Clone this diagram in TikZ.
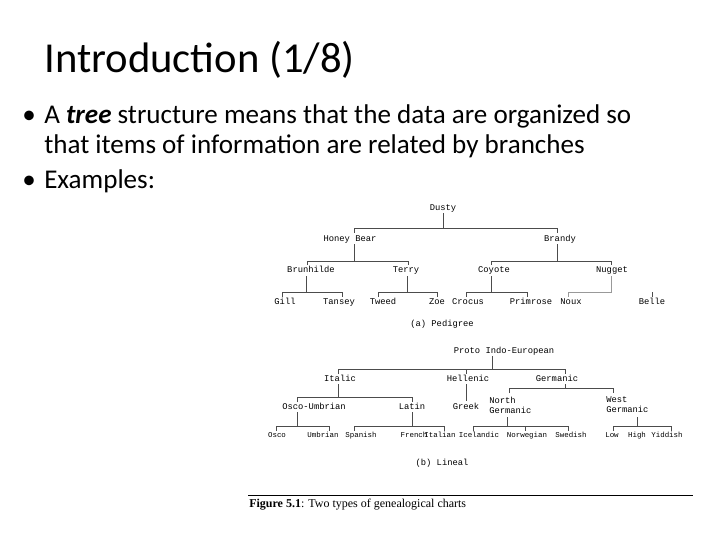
\documentclass[tikz,border=0pt]{standalone}
\usepackage{fontspec}
\setmainfont{Carlito}
\newfontfamily\treefont{Liberation Mono}
\newfontfamily\capfont{Liberation Serif}
\begin{document}
\begin{tikzpicture}[x=0.75pt,y=-0.75pt,
  t/.style={font=\treefont\fontsize{6.6}{7.5}\selectfont,inner sep=0pt,text height=4.6pt,text depth=1.3pt},
  ts/.style={font=\treefont\fontsize{5.6}{7}\selectfont,inner sep=0pt,text height=4.6pt,text depth=1.3pt},
  tl/.style={font=\treefont\fontsize{6.6}{7.5}\selectfont,inner sep=0pt,anchor=west},
  ln/.style={line width=0.6pt,black!70},
  body/.style={font=\fontsize{20.3}{24}\selectfont,anchor=west,inner sep=0pt,text height=14pt,text depth=4pt}]
\useasboundingbox (0,0) rectangle (720,540);
\node[font=\fontsize{32}{36}\selectfont,anchor=west,inner sep=0pt] (title) at (44,60) {Introduction (1/8)};
\node[body] (b1) at (22,117) {•};
\node[body] (l1) at (44,117) {A \textit{\textbf{tree}} structure means that the data are organized so};
\node[body] (l2) at (44,147) {that items of information are related by branches};
\node[body] (b2) at (22,182) {•};
\node[body] (l3) at (44,182) {Examples:};
% pedigree
\node[t] (dusty) at (443,208) {Dusty};
\node[t] (hb) at (350,239) {Honey Bear};
\node[t] (brandy) at (560,239) {Brandy};
\node[t] (brun) at (311,270) {Brunhilde};
\node[t] (terry) at (406,270) {Terry};
\node[t] (coy) at (494,270) {Coyote};
\node[t] (nug) at (612,270) {Nugget};
\node[t] (gill) at (285,302) {Gill};
\node[t] (tan) at (339,302) {Tansey};
\node[t] (tweed) at (383,302) {Tweed};
\node[t] (zoe) at (437,302) {Zoe};
\node[t] (croc) at (468,302) {Crocus};
\node[t] (prim) at (531,302) {Primrose};
\node[t] (noux) at (571,302) {Noux};
\node[t] (belle) at (652,302) {Belle};
\node[t] (capa) at (442,324) {(a) Pedigree};
\draw[ln] (443,213) -- (443,228);
\draw[ln] (354,228) -- (557,228) -- (557,233);
\draw[ln] (354,228) -- (354,233);
\draw[ln] (354,244) -- (354,261);
\draw[ln] (307,261) -- (408,261) -- (408,265);
\draw[ln] (307,261) -- (307,265);
\draw[ln] (306,276) -- (306,292);
\draw[ln] (282,297) -- (282,292) -- (342,292) -- (342,297);
\draw[ln] (407,276) -- (407,292);
\draw[ln] (378,297) -- (378,292) -- (437,292) -- (437,297);
\draw[ln] (557,244) -- (557,261);
\draw[ln] (491,265) -- (491,261) -- (611,261) -- (611,265);
\draw[ln] (491,276) -- (491,292);
\draw[ln] (466,297) -- (466,292) -- (527,292) -- (527,297);
\draw[ln,black!40] (611,276) -- (611,292) -- (568,292) -- (568,297);
\draw[ln] (652,292) -- (652,297);
% lineal
\node[t] (pie) at (504,351) {Proto Indo-European};
\node[t] (ital) at (340,379) {Italic};
\node[t] (hell) at (468,379) {Hellenic};
\node[t] (germ) at (557,379) {Germanic};
\node[t] (osum) at (314,407) {Osco-Umbrian};
\node[t] (lat) at (412,407) {Latin};
\node[t] (greek) at (466,407) {Greek};
\node[tl,align=left] (ng) at (489,405) {North\\Germanic};
\node[tl,align=left] (wg) at (606,405) {West\\Germanic};
\node[ts] (osco) at (277,435) {Osco};
\node[ts] (umb) at (323,435) {Umbrian};
\node[ts] (spa) at (361,435) {Spanish};
\node[ts] (fre) at (414,435) {French};
\node[ts] (ita) at (440,435) {Italian};
\node[ts] (ice) at (479,435) {Icelandic};
\node[ts] (nor) at (527,435) {Norwegian};
\node[ts] (swe) at (571,435) {Swedish};
\node[ts] (low) at (612,435) {Low};
\node[ts] (high) at (637,435) {High};
\node[ts] (yid) at (667,435) {Yiddish};
\node[t] (capb) at (442,463) {(b) Lineal};
\draw[ln] (492,356) -- (492,369);
\draw[ln] (338,374) -- (338,369) -- (565,369) -- (565,374);
\draw[ln] (466,369) -- (466,374);
\draw[ln] (338,384) -- (338,397);
\draw[ln] (297,402) -- (297,397) -- (412,397) -- (412,402);
\draw[ln] (466,384) -- (466,401);
\draw[ln] (565,384) -- (565,388);
\draw[ln] (509,393) -- (509,388) -- (613,388) -- (613,393);
\draw[ln] (297,412) -- (297,426);
\draw[ln] (276,431) -- (276,426) -- (329,426) -- (329,431);
\draw[ln] (412,412) -- (412,426);
\draw[ln] (354,431) -- (354,426) -- (444,426) -- (444,431);
\draw[ln] (507,417) -- (507,426);
\draw[ln] (473,431) -- (473,426) -- (568,426) -- (568,431);
\draw[ln] (525,426) -- (525,431);
\draw[ln] (637,417) -- (637,426);
\draw[ln] (613,431) -- (613,426) -- (671,426) -- (671,431);
\draw[line width=0.6pt] (248,495) -- (693,495);
\node[anchor=west,inner sep=0pt,font=\capfont\fontsize{9}{10}\selectfont] (cap) at (249,505) {\textbf{Figure 5.1}: Two types of genealogical charts};
\end{tikzpicture}
\end{document}
